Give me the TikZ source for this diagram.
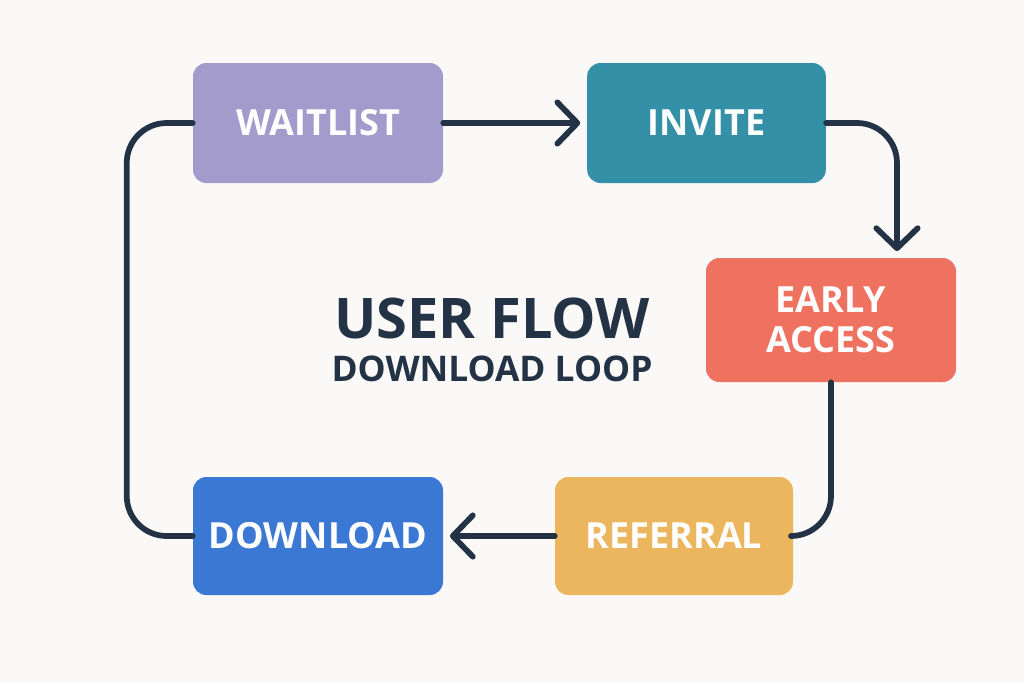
\documentclass[tikz,border=0pt]{standalone}
\usepackage{fontspec}
\setmainfont{Open Sans}
\usetikzlibrary{arrows.meta}
\definecolor{bgc}{HTML}{FAF9F7}
\definecolor{darkc}{HTML}{243246}
\definecolor{waitc}{HTML}{A29BCB}
\definecolor{invitec}{HTML}{3390A6}
\definecolor{earlyc}{HTML}{EF7260}
\definecolor{refc}{HTML}{ECB65E}
\definecolor{downc}{HTML}{3B78D4}
\tikzset{
  box/.style={rounded corners=10pt, minimum width=187.5pt, minimum height=90pt,
    text=white, font=\fontsize{27}{30}\selectfont\bfseries, align=center, inner sep=0pt},
  conn/.style={draw=darkc, line width=4.3pt, line cap=round, line join=round},
  tip/.style={-{Straight Barb[length=15pt,width=31pt,line cap=round,line join=round]}, shorten >=5pt}
}
\begin{document}
\begin{tikzpicture}[x=0.75pt,y=-0.75pt]
\fill[bgc] (0,0) rectangle (1024,683);
\useasboundingbox (0,0) rectangle (1024,683);
\node[box, fill=waitc] (wait) at (318,123) {WAITLIST};
\node[box, fill=invitec, minimum width=179pt] (invite) at (706.5,123) {INVITE};
\node[box, fill=earlyc, minimum height=93pt] (early) at (831,320) {EARLY\\ACCESS};
\node[box, fill=refc, minimum width=178.5pt, minimum height=88.5pt] (ref) at (674,536) {REFERRAL};
\node[box, fill=downc, minimum height=88.5pt] (down) at (318,536) {DOWNLOAD};
\node[text=darkc, font=\fontsize{42}{46}\selectfont\bfseries] (title) at (492,318) {USER FLOW};
\node[text=darkc, font=\fontsize{26.5}{30}\selectfont\bfseries] (sub) at (492,369) {DOWNLOAD LOOP};
\draw[conn, tip] (wait.east) -- (invite.west);
\draw[conn, tip, rounded corners=30pt] (invite.east) -| ([xshift=49.5pt]early.north);
\draw[conn, rounded corners=30pt] (early.south) |- (ref.east);
\draw[conn, tip] (ref.west) -- (down.east);
\draw[conn, rounded corners=30pt] (down.west) -- ++(-66,0) |- (wait.west);
\end{tikzpicture}
\end{document}
